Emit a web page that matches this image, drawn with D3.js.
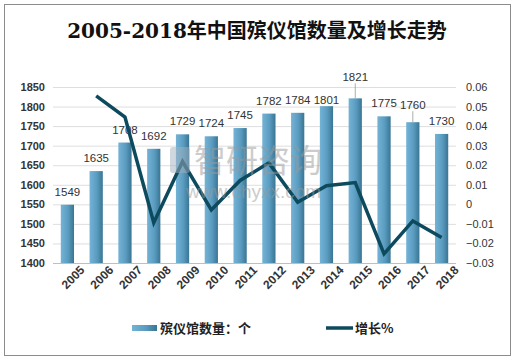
<!DOCTYPE html>
<html>
<head>
<meta charset="utf-8">
<script src="https://cdn.jsdelivr.net/npm/d3@7"></script>
<style>
  body { margin: 0; background: #fff; }
  text { font-family: "Liberation Sans", Arial, "Noto Sans CJK SC", sans-serif; }
</style>
</head>
<body>
<div id="chart"></div>
<script>
var years = ["2005", "2006", "2007", "2008", "2009", "2010", "2011", "2012", "2013", "2014", "2015", "2016", "2017", "2018"];
var counts = [1549, 1635, 1708, 1692, 1729, 1724, 1745, 1782, 1784, 1801, 1821, 1775, 1760, 1730];
// growth rate, first year has none
var growth = [null, 0.0555, 0.0446, -0.0094, 0.0219, -0.0029, 0.0122, 0.0212, 0.0011, 0.0095, 0.0111, -0.0253, -0.0085, -0.0170];
var leftTicks = [1400, 1450, 1500, 1550, 1600, 1650, 1700, 1750, 1800, 1850];
var rightTicks = [-0.03, -0.02, -0.01, 0, 0.01, 0.02, 0.03, 0.04, 0.05, 0.06];

var W = 516, H = 361;
var margin = {top: 87, right: 60, bottom: 98, left: 53},
    width = 456 - margin.left,
    height = 263 - margin.top;

var svg = d3.select("#chart").append("svg")
  .attr("width", W).attr("height", H);

// outer frame
svg.append("rect")
  .attr("x", 4.5).attr("y", 4.5).attr("width", 506).attr("height", 351)
  .attr("fill", "#fff").attr("stroke", "#8c8c8c").attr("stroke-width", 1);

// title
svg.append("text")
  .attr("x", 257).attr("y", 38)
  .attr("text-anchor", "middle")
  .style("font-family", "'DejaVu Serif', 'Liberation Serif', 'Noto Sans CJK SC', serif")
  .style("font-size", "20px")
  .style("font-weight", "bold")
  .attr("fill", "#111")
  .text("2005-2018年中国殡仪馆数量及增长走势");

var defs = svg.append("defs");
var grad = defs.append("linearGradient").attr("id", "barGrad")
  .attr("x1", "0%").attr("x2", "100%").attr("y1", "0%").attr("y2", "0%");
grad.append("stop").attr("offset", "0%").attr("stop-color", "#74b3d6");
grad.append("stop").attr("offset", "55%").attr("stop-color", "#5a9cc0");
grad.append("stop").attr("offset", "100%").attr("stop-color", "#3a7593");

var g = svg.append("g")
  .attr("transform", "translate(" + margin.left + "," + margin.top + ")");

var x = d3.scaleBand().domain(years).range([0, width]).paddingInner(0.54).paddingOuter(0.27);
var y = d3.scaleLinear().domain([1400, 1850]).range([height, 0]);
var y2 = d3.scaleLinear().domain([-0.03, 0.06]).range([height, 0]);

// gridlines
g.selectAll(".grid").data(leftTicks).enter().append("line")
  .attr("x1", 0).attr("x2", width)
  .attr("y1", function(d) { return y(d) + 0.5; })
  .attr("y2", function(d) { return y(d) + 0.5; })
  .attr("stroke", function(d) { return d === 1400 ? "#bfbfbf" : "#dedede"; })
  .attr("stroke-width", 1);

// left axis
var yAxis = g.append("g")
  .call(d3.axisLeft(y).tickValues(leftTicks).tickSize(0).tickPadding(8).tickFormat(d3.format("d")));
yAxis.select(".domain").remove();
yAxis.selectAll("text")
  .style("font-size", "11px").style("font-weight", "bold").attr("fill", "#333");

// right axis
var yAxis2 = g.append("g")
  .attr("transform", "translate(" + width + ",0)")
  .call(d3.axisRight(y2).tickValues(rightTicks).tickSize(0).tickPadding(10)
    .tickFormat(function(d) { return d === 0 ? "0" : d3.format(".2f")(d); }));
yAxis2.select(".domain").remove();
yAxis2.selectAll("text")
  .style("font-size", "11px").attr("fill", "#333");

// x axis labels
var xAxis = g.append("g")
  .attr("transform", "translate(0," + height + ")")
  .call(d3.axisBottom(x).tickSize(0).tickPadding(11));
xAxis.select(".domain").remove();
xAxis.selectAll("text")
  .style("font-size", "12px").style("font-weight", "bold").attr("fill", "#333")
  .attr("text-anchor", "end")
  .attr("dx", "0.6em").attr("dy", "0.6em")
  .attr("transform", "rotate(-45)");

// bars
g.selectAll(".bar").data(counts).enter().append("rect")
  .attr("x", function(d, i) { return x(years[i]); })
  .attr("y", function(d) { return y(d); })
  .attr("width", x.bandwidth())
  .attr("height", function(d) { return height - y(d); })
  .attr("fill", "url(#barGrad)");

// watermark
var wm = svg.append("g").attr("opacity", 0.5);
wm.append("rect").attr("x", 170).attr("y", 147).attr("width", 20).attr("height", 26)
  .attr("rx", 3).attr("fill", "#a3b1c0");
wm.append("text").attr("x", 194).attr("y", 172)
  .style("font-family", "'Noto Sans CJK SC', sans-serif").style("font-size", "32px")
  .attr("fill", "#9a9a9a").text("智研咨询");
wm.append("text").attr("x", 186).attr("y", 198)
  .style("font-size", "19px").attr("fill", "#9a9a9a").text("www.chyxx.com");

// data labels (a couple are nudged with a leader line, like the source)
var nudge = {"2014": 7, "2015": -8, "2017": -4};
g.selectAll(".lbl").data(counts).enter().append("text")
  .attr("x", function(d, i) { return x(years[i]) + x.bandwidth() / 2; })
  .attr("y", function(d, i) { return y(d) - 13 + (nudge[years[i]] || 0); })
  .attr("dy", "0.35em")
  .attr("text-anchor", "middle")
  .style("font-size", "11.5px").attr("fill", "#333")
  .text(function(d) { return d; });

["2015", "2017"].forEach(function(yr) {
  var i = years.indexOf(yr);
  var cx = x(yr) + x.bandwidth() / 2;
  g.append("line")
    .attr("x1", cx).attr("x2", cx)
    .attr("y1", y(counts[i]) - 13 + nudge[yr] + 6)
    .attr("y2", y(counts[i]))
    .attr("stroke", "#999").attr("stroke-width", 0.8);
});

// growth line
var line = d3.line()
  .defined(function(d) { return d !== null; })
  .x(function(d, i) { return x(years[i]) + x.bandwidth() / 2; })
  .y(function(d) { return y2(d); });

g.append("path")
  .datum(growth)
  .attr("d", line)
  .attr("fill", "none")
  .attr("stroke", "#0e4a5e")
  .attr("stroke-width", 3.5)
  .attr("stroke-linejoin", "miter");

// legend
var leg = svg.append("g").attr("transform", "translate(0,328)");
leg.append("rect").attr("x", 132).attr("y", -3).attr("width", 25).attr("height", 6)
  .attr("fill", "url(#barGrad)");
leg.append("text").attr("x", 160).attr("y", 0).attr("dy", "0.35em")
  .style("font-family", "'Noto Sans CJK SC', sans-serif")
  .style("font-size", "13px").style("font-weight", "bold").attr("fill", "#222")
  .text("殡仪馆数量：个");
leg.append("line").attr("x1", 326).attr("x2", 353).attr("y1", 0).attr("y2", 0)
  .attr("stroke", "#0e4a5e").attr("stroke-width", 3.5);
leg.append("text").attr("x", 355).attr("y", 0).attr("dy", "0.35em")
  .style("font-family", "'Noto Sans CJK SC', sans-serif")
  .style("font-size", "13px").style("font-weight", "bold").attr("fill", "#222")
  .text("增长%");
</script>
</body>
</html>
